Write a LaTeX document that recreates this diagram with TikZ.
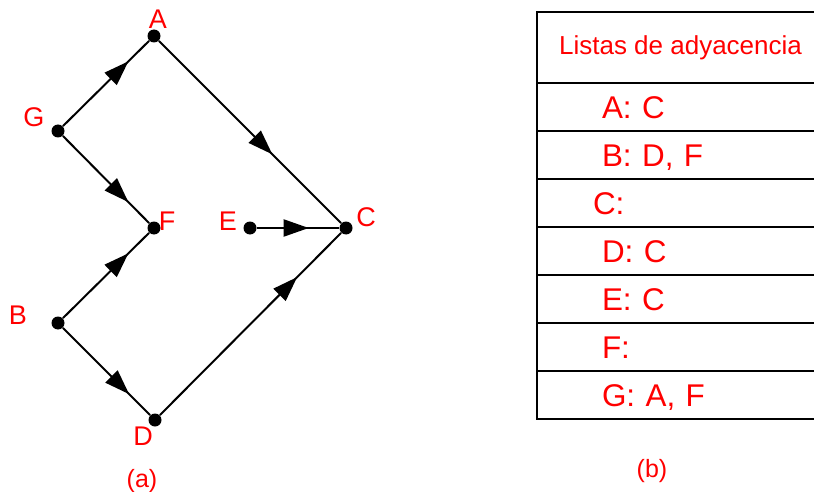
\documentclass[tikz,border=0pt]{standalone}
\usepackage{fontspec}
\setmainfont{Liberation Sans}
\usetikzlibrary{arrows.meta,positioning,decorations.markings}

\begin{document}
\begin{tikzpicture}[
    x=0.5pt, y=-0.5pt,
    vertex/.style={circle, fill=black, inner sep=0pt, minimum size=6.5pt},
    vlabel/.style={text=red, font=\fontsize{13.5}{15}\selectfont, inner sep=0pt},
    arc/.style={line width=1pt, postaction={decorate},
                decoration={markings, mark=at position #1 with
                  {\arrow{Triangle[length=12.5pt,width=8.5pt]}}}},
    arc/.default=0.76,
    hdrcell/.style={draw, line width=0.9pt, outer sep=0pt, minimum width=143.5pt,
                    minimum height=35.5pt, text=red, font=\fontsize{13}{15}\selectfont},
    rowcell/.style={draw, line width=0.9pt, outer sep=0pt, minimum height=24pt,
                    text width=78.5pt, inner xsep=32.5pt, align=left,
                    text height=11.4pt, text depth=0pt,
                    text=red, font=\fontsize{15.7}{18}\selectfont},
    caption/.style={text=red, font=\fontsize{12.5}{14}\selectfont},
  ]
  \useasboundingbox (0,0) rectangle (814,492);

  % === (a) graph ===
  \node[vertex] (A) at (154,36) {};
  \node[vertex] (G) at (58,131) {};
  \node[vertex] (F) at (154,228) {};
  \node[vertex] (E) at (250,228) {};
  \node[vertex] (C) at (346,228) {};
  \node[vertex] (B) at (58,323) {};
  \node[vertex] (D) at (155,420) {};

  \node[vlabel] (lblA) at (158,19) {A};
  \node[vlabel] (lblG) at (34,117) {G};
  \node[vlabel] (lblF) at (167,221) {F};
  \node[vlabel] (lblE) at (228,221) {E};
  \node[vlabel] (lblC) at (366,217) {C};
  \node[vlabel] (lblB) at (18,315) {B};
  \node[vlabel] (lblD) at (143,436) {D};

  \draw[arc] (G) -- (A);
  \draw[arc=0.625] (A) -- (C);
  \draw[arc] (G) -- (F);
  \draw[arc=0.63] (E) -- (C);
  \draw[arc] (B) -- (F);
  \draw[arc] (B) -- (D);
  \draw[arc] (D) -- (C);

  \node[caption] (capA) at (142,481) {(a)};

  % === (b) adjacency lists ===
  \node[hdrcell, anchor=north west] (hdr) at (537,12) {Listas de adyacencia};
  \node[rowcell, below=0pt of hdr] (rowA) {A: C};
  \node[rowcell, below=0pt of rowA] (rowB) {B: D, F};
  \node[rowcell, below=0pt of rowB] (rowC) {\hspace*{-4.5pt}C:};
  \node[rowcell, below=0pt of rowC] (rowD) {D: C};
  \node[rowcell, below=0pt of rowD] (rowE) {E: C};
  \node[rowcell, below=0pt of rowE] (rowF) {F:};
  \node[rowcell, below=0pt of rowF] (rowG) {G: A, F};

  \node[caption] (capB) at (652,471) {(b)};

\end{tikzpicture}
\end{document}
